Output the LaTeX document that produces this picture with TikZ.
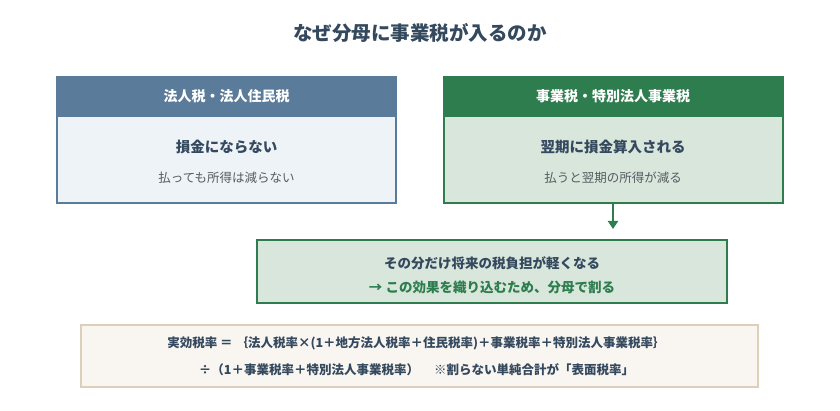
\documentclass[tikz,border=0pt]{standalone}
\usepackage{fontspec}
\setmainfont{Noto Sans CJK JP}
\usetikzlibrary{arrows.meta}
\definecolor{titlec}{HTML}{34495E}
\definecolor{blueh}{HTML}{5B7B9A}
\definecolor{bluebg}{HTML}{EEF3F8}
\definecolor{greenh}{HTML}{2E7D4F}
\definecolor{greenbg}{HTML}{D9E6DB}
\definecolor{subc}{HTML}{555B61}
\definecolor{beigebg}{HTML}{F9F6F1}
\definecolor{beigeb}{HTML}{DCD0BB}
\tikzset{
  panel/.style={rectangle, line width=2pt, inner sep=0pt, outer sep=0pt},
  headbar/.style={rectangle, inner sep=0pt, outer sep=0pt, text=white, font=\bfseries\fontsize{14}{16}\selectfont},
  maintext/.style={text=titlec, font=\bfseries\fontsize{14.5}{17}\selectfont, inner sep=0pt},
  subtext/.style={text=subc, font=\fontsize{12.5}{15}\selectfont, inner sep=0pt},
  midtext/.style={font=\bfseries\fontsize{13.5}{16}\selectfont, inner sep=0pt},
  formtext/.style={text=titlec, font=\bfseries\fontsize{12.5}{15}\selectfont, inner sep=0pt}
}
\begin{document}
\begin{tikzpicture}[x=1pt,y=-1pt]
\useasboundingbox[fill=white] (0,0) rectangle (840,411);
\node[text=titlec, font=\bfseries\fontsize{19.5}{22}\selectfont, inner sep=0pt] (title) at (420,33) {なぜ分母に事業税が入るのか};
% left panel
\node[panel, draw=blueh, fill=bluebg, minimum width=339pt, minimum height=126pt] (lbox) at (226.5,140) {};
\node[headbar, fill=blueh, minimum width=341pt, minimum height=41pt, anchor=north] (lhead) at ([yshift=1pt]lbox.north) {法人税・法人住民税};
\node[maintext] (lmain) at (226.5,147) {損金にならない};
\node[subtext] (lsub) at (226.5,177.5) {払っても所得は減らない};
% right panel
\node[panel, draw=greenh, fill=greenbg, minimum width=339pt, minimum height=126pt] (rbox) at (613,140) {};
\node[headbar, fill=greenh, minimum width=341pt, minimum height=41pt, anchor=north] (rhead) at ([yshift=1pt]rbox.north) {事業税・特別法人事業税};
\node[maintext] (rmain) at (613,147) {翌期に損金算入される};
\node[subtext] (rsub) at (613,177.5) {払うと翌期の所得が減る};
% middle panel
\node[panel, draw=greenh, fill=greenbg, minimum width=470pt, minimum height=63pt] (mbox) at (492,271.5) {};
\node[midtext, text=titlec] (mline1) at (492,263) {その分だけ将来の税負担が軽くなる};
\node[midtext, text=greenh] (mline2) at (492,287) {→ この効果を織り込むため、分母で割る};
\draw[greenh, line width=2pt, -{Triangle[length=8pt,width=10pt]}, shorten >=11pt] (rbox.south) -- (rbox.south |- mbox.north);
% formula panel
\node[panel, draw=beigeb, fill=beigebg, minimum width=677pt, minimum height=62pt] (fbox) at (419.5,356) {};
\node[formtext] (fline1) at (416.5,343) {実効税率 ＝ ｛法人税率×(1＋地方法人税率＋住民税率)＋事業税率＋特別法人事業税率｝};
\node[formtext] (fline2) at (416.5,370) {÷（1＋事業税率＋特別法人事業税率）\hspace{1.2em}※割らない単純合計が「表面税率」};
\end{tikzpicture}
\end{document}
